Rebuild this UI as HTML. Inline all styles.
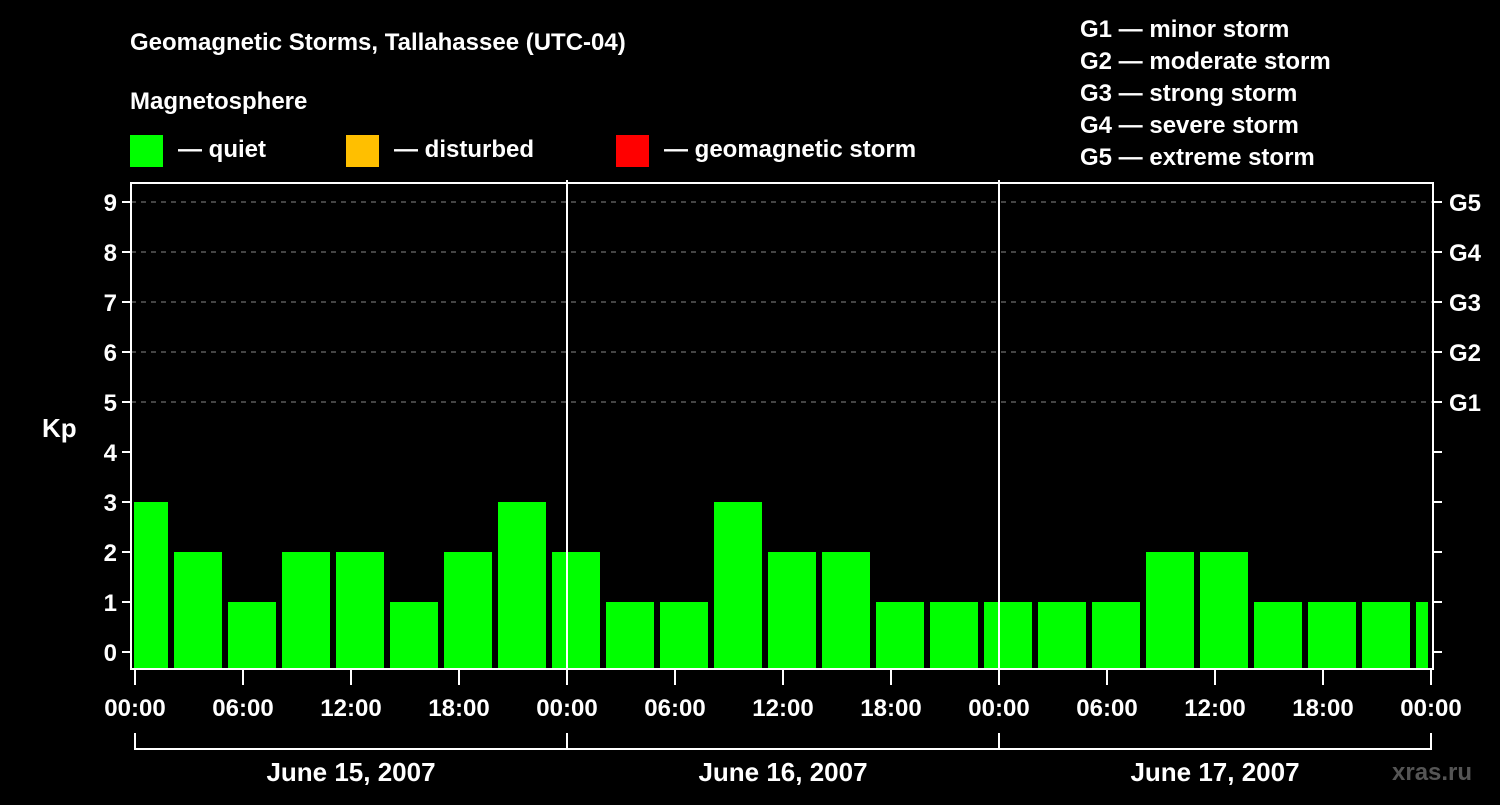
<!DOCTYPE html>
<html><head><meta charset="utf-8"><style>
body{margin:0;background:#000;width:1500px;height:800px;overflow:hidden}
svg text{font-family:"Liberation Sans",sans-serif;font-weight:bold;fill:#fff}
</style></head><body>
<svg id="c" width="1500" height="800">
<text x="130" y="50" font-size="24">Geomagnetic Storms, Tallahassee (UTC-04)</text>
<text x="130" y="109" font-size="24">Magnetosphere</text>
<rect x="130" y="135" width="33" height="32" fill="#00ff00"/>
<text x="178" y="157" font-size="24">— quiet</text>
<rect x="346" y="135" width="33" height="32" fill="#ffbf00"/>
<text x="394" y="157" font-size="24">— disturbed</text>
<rect x="616" y="135" width="33" height="32" fill="#ff0000"/>
<text x="664" y="157" font-size="24">— geomagnetic storm</text>
<g font-size="24">
<text x="1080" y="37">G1 — minor storm</text>
<text x="1080" y="69">G2 — moderate storm</text>
<text x="1080" y="101">G3 — strong storm</text>
<text x="1080" y="133">G4 — severe storm</text>
<text x="1080" y="165">G5 — extreme storm</text>
</g>
<text x="42" y="437" font-size="26">Kp</text>
<text x="1392" y="780" font-size="24" fill="#666" style="fill:#555">xras.ru</text>
<g id="plot"></g>
</svg>
<script>
const values=[3,2,1,2,2,1,2,3,2,1,1,3,2,2,1,1,1,1,1,2,2,1,1,1,1];
const yTicks=[0,1,2,3,4,5,6,7,8,9];
const gLabels=["G1","G2","G3","G4","G5"];
const gLevels=[5,6,7,8,9];
const xLabels=["00:00","06:00","12:00","18:00","00:00","06:00","12:00","18:00","00:00","06:00","12:00","18:00","00:00"];
const days=["June 15, 2007","June 16, 2007","June 17, 2007"];
const L=131,R=1433,T=183,B=669,X0=135,HR=18;
const y=v=>652-50*v, x=h=>X0+h*HR;
const g=document.getElementById('plot');
const NS="http://www.w3.org/2000/svg";
function mk(t,a){const e=document.createElementNS(NS,t);for(const k in a)e.setAttribute(k,a[k]);g.appendChild(e);return e;}
yTicks.forEach(v=>{
 if(v>=5){const l=mk('line',{x1:L,x2:R,y1:y(v),y2:y(v),stroke:'#888','stroke-width':1,'stroke-dasharray':'5,5'});
 
 }
 const t=mk('line',{x1:L-9,x2:L,y1:y(v),y2:y(v),stroke:'#fff','stroke-width':2});
 
 
 const t2=mk('line',{x1:R,x2:R+9,y1:y(v),y2:y(v),stroke:'#fff','stroke-width':2});
 
 
 const tx=mk('text',{x:L-14,y:y(v)+9,'font-size':24,'text-anchor':'end'});tx.textContent=v;
 
 
});
gLevels.forEach((v,i)=>{const tx=mk('text',{x:1449,y:y(v)+9,'font-size':24});tx.textContent=gLabels[i];
 
 });
values.forEach((v,i)=>{
 let a=x(i*3)-15,b=a+48;a=Math.max(a,L+3);b=Math.min(b,x(72)-3);
 const r=mk('rect',{x:a,y:y(v),width:b-a,height:B-y(v),fill:'#00ff00'});
 
 
});
[1,2].forEach(d=>{const l=mk('line',{x1:x(d*24),x2:x(d*24),y1:180,y2:B,stroke:'#fff','stroke-width':2});
 
 });
const f=mk('rect',{x:L,y:T,width:R-L,height:B-T,fill:'none',stroke:'#fff','stroke-width':2});


xLabels.forEach((s,i)=>{
 const xx=x(i*6);
 const t=mk('line',{x1:xx,x2:xx,y1:B,y2:685,stroke:'#fff','stroke-width':2});
 
 
 const tx=mk('text',{x:xx,y:716,'font-size':24,'text-anchor':'middle'});tx.textContent=s;
 
 
});
const br=mk('path',{d:`M${x(0)},733V749H${x(72)}V733`,fill:'none',stroke:'#fff','stroke-width':2});


[1,2].forEach(d=>{const l=mk('line',{x1:x(d*24),x2:x(d*24),y1:733,y2:749,stroke:'#fff','stroke-width':2});
 
 });
days.forEach((s,i)=>{const tx=mk('text',{x:x(i*24+12),y:781,'font-size':26,'text-anchor':'middle'});tx.textContent=s;
 
 });
</script>
</body></html>
